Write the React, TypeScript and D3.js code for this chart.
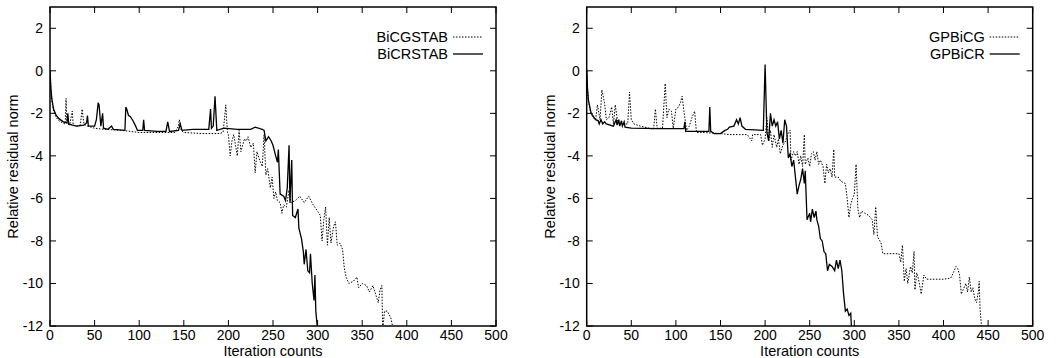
import { scaleLinear, line } from 'd3';

type Pt = [number, number];

const xTicks = [0, 50, 100, 150, 200, 250, 300, 350, 400, 450, 500];
const yTicks = [-12, -10, -8, -6, -4, -2, 0, 2];

const bicgstab: Pt[] = [
  [0, 0], [1, -0.9], [2, -1.4], [4, -1.9], [7, -2.2], [10, -2.35], [14, -2.45], [17, -2.5], [18, -1.3], [19, -2.5],
  [22, -2.55], [25, -1.9], [26, -2.55], [30, -2.6], [34, -2.55], [36, -1.8], [38, -2.5], [42, -2.6], [50, -2.7],
  [60, -2.75], [80, -2.8], [100, -2.9], [120, -2.9], [140, -2.9], [144, -2.6], [145, -2.3], [147, -2.8], [150, -2.9],
  [170, -2.95], [190, -2.95], [194, -2.9], [196, -2.1], [197, -1.6], [199, -2.9], [200, -3.0], [202, -4.0], [204, -3.3],
  [206, -3.0], [208, -3.5], [210, -4.0], [212, -2.8], [214, -3.8], [216, -3.5], [218, -3.2], [220, -3.3], [222, -3.1],
  [225, -3.6], [228, -3.4], [230, -4.8], [232, -3.8], [235, -4.2], [238, -4.5], [240, -3.0], [242, -4.9], [244, -4.6],
  [247, -5.5], [249, -5.0], [251, -6.0], [253, -5.7], [255, -6.1], [258, -6.2], [260, -6.7], [262, -6.3], [265, -6.4],
  [268, -5.6], [270, -6.2], [275, -6.1], [280, -5.9], [285, -6.2], [290, -5.9], [295, -6.3], [300, -6.6], [303, -6.8],
  [305, -8.0], [307, -7.0], [309, -6.4], [311, -8.2], [313, -6.9], [315, -8.1], [318, -7.3], [320, -7.1], [322, -8.2],
  [325, -8.1], [328, -8.4], [330, -9.3], [332, -9.7], [335, -10.0], [340, -9.9], [344, -9.7], [346, -10.2], [350, -10.0],
  [355, -10.1], [358, -10.4], [362, -10.1], [365, -10.5], [368, -10.9], [370, -10.3], [372, -10.1], [373, -12.2],
  [375, -11.3], [378, -11.3], [382, -11.6], [385, -12.2],
];

const bicrstab: Pt[] = [
  [0, 0], [1, -0.8], [2, -1.3], [4, -1.8], [7, -2.1], [10, -2.25], [15, -2.4], [19, -2.45], [20, -2.0], [21, -2.5],
  [25, -2.55], [30, -2.6], [38, -2.55], [41, -2.45], [42, -2.1], [43, -2.6], [50, -2.6], [52, -2.3], [54, -1.5],
  [55, -1.6], [57, -2.6], [59, -2.0], [60, -2.7], [65, -2.75], [69, -2.6], [71, -2.75], [84, -2.8], [85, -1.7],
  [86, -1.8], [88, -2.1], [90, -2.15], [93, -2.35], [96, -2.6], [98, -2.8], [104, -2.8], [105, -2.3], [106, -2.8],
  [120, -2.85], [130, -2.85], [132, -2.4], [134, -2.85], [144, -2.8], [146, -2.5], [148, -2.8], [160, -2.75],
  [178, -2.75], [180, -1.8], [181, -2.7], [183, -2.6], [185, -1.2], [187, -2.8], [195, -2.7], [210, -2.75],
  [225, -2.75], [230, -2.65], [238, -2.75], [240, -2.8], [242, -3.3], [245, -3.1], [248, -3.3], [250, -3.5],
  [253, -4.0], [255, -4.3], [256, -3.7], [258, -5.8], [262, -5.9], [264, -6.1], [266, -5.5], [268, -3.5], [269, -6.2],
  [271, -4.2], [272, -6.8], [275, -6.9], [278, -6.5], [279, -7.4], [282, -7.9], [284, -8.5], [285, -9.1], [287, -8.4],
  [289, -9.4], [291, -9.5], [292, -8.6], [294, -10.0], [296, -10.8], [297, -9.6], [298, -11.3], [300, -12.2],
];

const gpbicg: Pt[] = [
  [0, 0], [1, -0.9], [2, -1.4], [4, -1.9], [7, -2.2], [10, -2.3], [12, -1.6], [15, -2.3], [17, -0.9], [20, -1.5],
  [22, -2.3], [25, -2.2], [28, -1.7], [30, -2.5], [32, -1.6], [35, -2.5], [40, -2.5], [46, -2.5], [48, -1.0],
  [50, -2.3], [53, -2.5], [60, -2.6], [70, -2.7], [75, -2.75], [77, -1.8], [79, -2.7], [85, -2.7], [88, -0.6],
  [90, -2.2], [92, -1.8], [95, -1.9], [97, -2.7], [100, -1.8], [103, -1.7], [105, -1.5], [107, -1.2], [109, -1.9],
  [112, -2.8], [115, -2.6], [118, -2.2], [121, -1.9], [123, -2.9], [130, -2.9], [150, -2.95], [160, -3.0],
  [180, -3.0], [185, -3.3], [186, -3.0], [195, -3.0], [197, -3.5], [200, -3.2], [202, -2.2], [204, -3.3],
  [206, -2.8], [208, -3.6], [210, -3.0], [213, -3.6], [215, -3.2], [217, -3.9], [220, -3.5], [223, -3.3],
  [225, -3.0], [228, -2.8], [229, -4.2], [232, -3.8], [234, -4.0], [236, -3.8], [238, -4.4], [240, -4.0],
  [242, -4.5], [244, -3.0], [245, -4.4], [248, -4.1], [250, -4.5], [252, -3.9], [254, -3.8], [256, -4.2],
  [258, -3.8], [260, -4.4], [262, -4.2], [265, -4.5], [267, -5.3], [269, -4.4], [271, -4.8], [273, -4.6],
  [275, -5.0], [277, -3.7], [278, -5.0], [282, -5.0], [285, -5.2], [290, -5.3], [292, -6.0], [294, -6.9],
  [296, -6.3], [298, -6.0], [300, -5.8], [302, -4.4], [304, -6.5], [306, -6.9], [308, -6.6], [312, -6.7],
  [316, -6.8], [320, -7.0], [322, -7.7], [324, -6.4], [326, -7.8], [330, -8.1], [332, -8.6], [335, -8.6],
  [345, -8.6], [350, -8.6], [352, -9.0], [354, -8.2], [356, -9.9], [358, -9.3], [360, -10.0], [363, -9.2],
  [365, -9.5], [367, -8.5], [368, -10.3], [370, -9.5], [372, -9.8], [375, -10.5], [378, -9.6], [381, -9.8],
  [390, -9.8], [400, -9.8], [408, -9.75], [411, -9.5], [414, -9.2], [416, -9.3], [418, -9.6], [420, -10.5],
  [422, -10.3], [425, -10.0], [427, -10.4], [429, -9.7], [431, -10.4], [433, -10.2], [435, -10.7], [437, -10.9],
  [439, -10.4], [440, -9.9], [441, -11.2], [443, -12.2],
];

const gpbicr: Pt[] = [
  [0, 0], [1, -0.9], [2, -1.4], [5, -2.0], [10, -2.3], [13, -2.35], [14, -2.5], [16, -2.3], [18, -2.5], [20, -2.4],
  [22, -2.5], [30, -2.6], [33, -2.3], [34, -2.55], [36, -2.3], [37, -2.6], [39, -2.35], [40, -2.6], [42, -2.4],
  [43, -2.65], [50, -2.7], [80, -2.72], [109, -2.72], [110, -2.4], [111, -2.85], [137, -2.85], [138, -1.7],
  [139, -2.85], [143, -2.95], [150, -2.95], [155, -2.8], [158, -2.75], [160, -2.65], [165, -2.6], [168, -2.3],
  [170, -2.5], [172, -2.2], [174, -2.6], [178, -2.75], [198, -2.8], [200, 0.3], [202, -2.9], [204, -3.3],
  [206, -2.0], [208, -2.6], [210, -2.3], [212, -2.6], [214, -2.4], [216, -3.2], [218, -2.8], [220, -3.4],
  [222, -2.3], [224, -2.6], [226, -4.1], [228, -3.9], [230, -4.5], [232, -4.2], [234, -5.0], [236, -5.8],
  [238, -5.4], [240, -5.1], [242, -4.6], [244, -5.3], [245, -4.7], [247, -7.0], [250, -6.7], [251, -7.1],
  [253, -6.5], [255, -6.9], [257, -6.6], [258, -7.0], [260, -7.3], [262, -7.9], [264, -8.0], [266, -8.5],
  [268, -8.6], [270, -9.4], [272, -9.1], [275, -9.2], [278, -9.4], [280, -8.9], [282, -9.3], [284, -8.9],
  [286, -9.4], [288, -10.5], [290, -11.3], [292, -11.2], [294, -11.5], [296, -11.4], [297, -12.2],
];

const FONT = '"Liberation Sans", Arial, Helvetica, sans-serif';

interface SeriesDef {
  name: string;
  data: Pt[];
  dash?: string;
}

interface PanelProps {
  id: string;
  left: number;
  series: SeriesDef[];
}

function Panel({ id, left, series }: PanelProps) {
  const width = 446;
  const top = 7;
  const bottom = 326;

  const x = scaleLinear().domain([0, 500]).range([left, left + width]);
  const y = scaleLinear().domain([-12, 3]).range([bottom, top]);
  const path = line<Pt>()
    .x((d) => x(d[0]))
    .y((d) => y(d[1]));

  const right = left + width;
  const tickLen = 6;

  return (
    <g>
      <defs>
        <clipPath id={id}>
          <rect x={left} y={top} width={width} height={bottom - top} />
        </clipPath>
      </defs>

      {/* data lines */}
      <g clipPath={`url(#${id})`}>
        {series.map((s) => (
          <path
            key={s.name}
            d={path(s.data) || ''}
            fill="none"
            stroke="#000"
            strokeWidth={s.dash ? 1 : 1.3}
            strokeDasharray={s.dash}
          />
        ))}
      </g>

      {/* ticks */}
      {xTicks.map((t) => (
        <g key={`x${t}`}>
          <line x1={x(t)} x2={x(t)} y1={bottom} y2={bottom - tickLen} stroke="#000" />
          <line x1={x(t)} x2={x(t)} y1={top} y2={top + tickLen} stroke="#000" />
          <text x={x(t)} y={bottom + 13.5} textAnchor="middle" fontSize={14} fontFamily={FONT}>
            {t}
          </text>
        </g>
      ))}
      {yTicks.map((t) => (
        <g key={`y${t}`}>
          <line x1={left} x2={left + tickLen} y1={y(t)} y2={y(t)} stroke="#000" />
          <line x1={right} x2={right - tickLen} y1={y(t)} y2={y(t)} stroke="#000" />
          <text x={left - 7} y={y(t)} dy="0.35em" textAnchor="end" fontSize={14} fontFamily={FONT}>
            {t}
          </text>
        </g>
      ))}

      {/* frame */}
      <rect x={left} y={top} width={width} height={bottom - top} fill="none" stroke="#000" strokeWidth={1.5} />

      {/* axis titles */}
      <text x={left + width / 2} y={355.5} textAnchor="middle" fontSize={14.5} fontFamily={FONT}>
        Iteration counts
      </text>
      <text
        transform={`translate(${left - 32},${(top + bottom) / 2}) rotate(-90)`}
        textAnchor="middle"
        fontSize={14.5}
        fontFamily={FONT}
      >
        Relative residual norm
      </text>

      {/* legend */}
      {series.map((s, i) => {
        const ly = 37 + i * 17;
        return (
          <g key={`lg${s.name}`}>
            <text x={right - 48} y={ly} dy="0.35em" textAnchor="end" fontSize={14.5} fontFamily={FONT}>
              {s.name}
            </text>
            <line
              x1={right - 43}
              x2={right - 13}
              y1={ly}
              y2={ly}
              stroke="#000"
              strokeWidth={s.dash ? 1 : 1.3}
              strokeDasharray={s.dash}
            />
          </g>
        );
      })}
    </g>
  );
}

export default function App() {
  return (
    <svg
      width={1060}
      height={358}
      style={{ position: 'absolute', left: 0, top: 0, background: '#fff' }}
    >
      <Panel
        id="clipA"
        left={50}
        series={[
          { name: 'BiCGSTAB', data: bicgstab, dash: '1.5 1.5' },
          { name: 'BiCRSTAB', data: bicrstab },
        ]}
      />
      <Panel
        id="clipB"
        left={586.7}
        series={[
          { name: 'GPBiCG', data: gpbicg, dash: '1.5 1.5' },
          { name: 'GPBiCR', data: gpbicr },
        ]}
      />
    </svg>
  );
}
